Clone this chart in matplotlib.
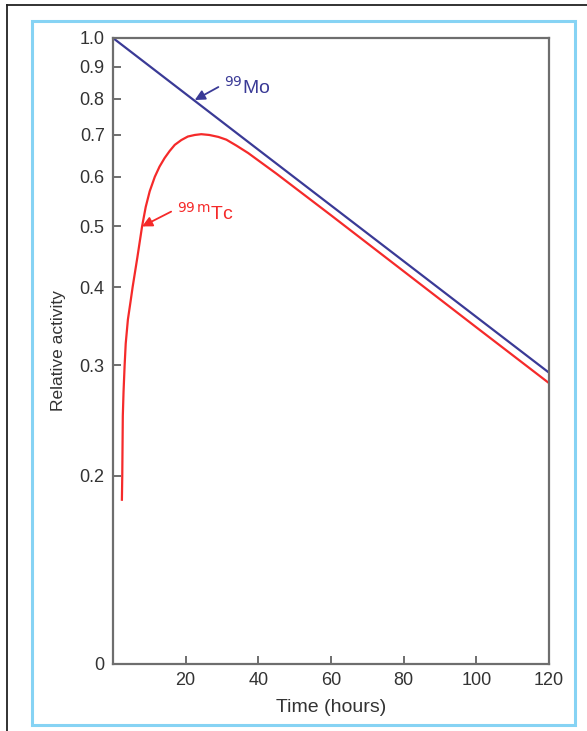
import matplotlib
matplotlib.use("Agg")
import matplotlib.pyplot as plt
from matplotlib.patches import Rectangle
from matplotlib.lines import Line2D

plt.rcParams['font.family'] = ['Liberation Sans', 'DejaVu Sans']

# Data
mo_time = [0, 40, 80, 120]
mo_activity = [1.0, 0.663, 0.44, 0.292]

tc_time = [2.45, 2.55, 2.7, 2.9, 3.2, 3.5, 4.1, 4.85, 5.4, 6.7, 8.0, 9.0, 10.1,
           11.5, 12.8, 14.2, 15.6, 17.0, 18.8, 20.6, 22.5, 24.3, 26.5, 29.0,
           31.2, 34.0, 37.2, 45, 60, 80, 100, 120]
tc_activity = [0.183, 0.20, 0.249, 0.272, 0.30, 0.325, 0.355, 0.38, 0.40, 0.446,
               0.50, 0.537, 0.569, 0.60, 0.623, 0.643, 0.66, 0.675, 0.687, 0.696,
               0.70, 0.702, 0.70, 0.695, 0.688, 0.673, 0.655, 0.607, 0.521,
               0.424, 0.345, 0.281]

x_ticks = [20, 40, 60, 80, 100, 120]
y_ticks = [0.1, 0.2, 0.3, 0.4, 0.5, 0.6, 0.7, 0.8, 0.9, 1.0]
y_tick_labels = ['0', '0.2', '0.3', '0.4', '0.5', '0.6', '0.7', '0.8', '0.9', '1.0']

mo_color = '#3a3a96'
tc_color = '#f52a2a'
W, H = 587, 731

fig = plt.figure(figsize=(W / 100, H / 100), dpi=100)
fig.patch.set_facecolor('white')

# outer black edges (top and left)
fig.add_artist(Line2D([7 / W, 7 / W], [0, 1 - 5 / H], transform=fig.transFigure,
                      color='#222222', lw=1.3))
fig.add_artist(Line2D([7 / W, 1], [1 - 5 / H, 1 - 5 / H], transform=fig.transFigure,
                      color='#222222', lw=1.3))
# light blue frame
fig.add_artist(Rectangle((32 / W, 1 - 725 / H), (575 - 32) / W, (725 - 21) / H,
                         transform=fig.transFigure, fill=False,
                         edgecolor='#86d3f4', lw=2.2))

ax = fig.add_axes([113 / W, 1 - 664 / H, (549 - 113) / W, (664 - 38) / H])
ax.plot(mo_time, mo_activity, color=mo_color, lw=1.6)
ax.plot(tc_time, tc_activity, color=tc_color, lw=1.6, solid_joinstyle='round')

ax.set_yscale('log')
ax.set_xlim(0, 120)
ax.set_ylim(0.1, 1.0)
ax.set_xticks(x_ticks)
ax.set_yticks(y_ticks)
ax.set_yticklabels(y_tick_labels)
ax.minorticks_off()
ax.tick_params(direction='in', length=6, width=1.2, color='#555555',
               labelsize=13, labelcolor='#333333', pad=6)
for s in ax.spines.values():
    s.set_color('#6e6e6e')
    s.set_linewidth(1.6)

ax.set_xlabel('Time (hours)', fontsize=14, color='#333333', labelpad=7)
ax.set_ylabel('Relative activity', fontsize=12.5, color='#333333', labelpad=10)

# annotations
ax.annotate('', xy=(22.5, 0.796), xytext=(29.0, 0.835),
            arrowprops=dict(arrowstyle='-|>', color=mo_color, lw=1.3,
                            mutation_scale=15, shrinkA=0, shrinkB=0))
ax.text(30.5, 0.835, r'$^{99}$Mo', color=mo_color, fontsize=14, va='center',
        ha='left')
ax.annotate('', xy=(8.0, 0.50), xytext=(16.0, 0.528),
            arrowprops=dict(arrowstyle='-|>', color=tc_color, lw=1.3,
                            mutation_scale=15, shrinkA=0, shrinkB=0))
ax.text(17.6, 0.525, r'$^{99\,\mathrm{m}}$Tc', color=tc_color, fontsize=14,
        va='center', ha='left')

fig.savefig('out.png', dpi=100)
